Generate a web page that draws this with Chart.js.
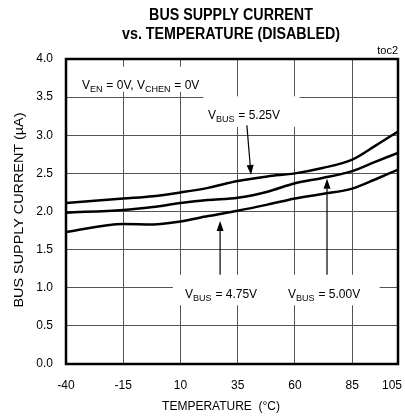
<!DOCTYPE html>
<html>
<head>
<meta charset="utf-8">
<script src="https://cdn.jsdelivr.net/npm/chart.js@4.4.1/dist/chart.umd.min.js"></script>
<style>
  html, body { margin: 0; padding: 0; background: #fff; }
  #wrap { width: 405px; height: 416px; }
</style>
</head>
<body>
<div id="wrap"><canvas id="chart"></canvas></div>
<script>
// --- DADOS ---
const temps    = [-40, -15, -2, 10, 22, 35, 48, 60, 72, 85, 95, 105];
const vbus525  = [2.11, 2.17, 2.20, 2.25, 2.31, 2.40, 2.46, 2.50, 2.57, 2.68, 2.86, 3.05];
const vbus500  = [1.985, 2.02, 2.06, 2.11, 2.15, 2.18, 2.26, 2.37, 2.44, 2.53, 2.65, 2.77];
const vbus475  = [1.73, 1.835, 1.83, 1.87, 1.94, 2.01, 2.09, 2.17, 2.23, 2.30, 2.42, 2.55];
const xTicks   = [-40, -15, 10, 35, 60, 85, 105];
const yTicks   = [0, 0.5, 1, 1.5, 2, 2.5, 3, 3.5, 4];

const FONT = "'Liberation Sans', Arial, sans-serif";

// annotations, in data units (temperature, current)
const boxes = [
  [-37.5, 20.5, 3.90, 3.57],
  [ 20.0, 62.0, 3.51, 3.11],
  [  6.7, 97.0, 1.17, 0.77]
];
const arrows = [
  [39.0, 3.13, 40.8, 2.48],
  [27.3, 1.17, 27.3, 1.875],
  [74.0, 1.17, 74.0, 2.43]
];

function pts(vals) {
  return temps.map((t, i) => ({ x: t, y: vals[i] }));
}

function line(vals) {
  return {
    data: pts(vals),
    borderColor: '#000',
    borderWidth: 2.5,
    pointRadius: 0,
    fill: false,
    tension: 0.4,
    cubicInterpolationMode: 'monotone'
  };
}

function subText(ctx, x, y, parts) {
  parts.forEach(p => {
    ctx.font = (p[1] ? '9px ' : '12px ') + FONT;
    ctx.fillText(p[0], x, y + (p[1] ? 3 : 0));
    x += ctx.measureText(p[0]).width + (p[1] ? 0.5 : 0);
  });
}

function drawArrow(ctx, x1, y1, x2, y2) {
  const a = Math.atan2(y2 - y1, x2 - x1);
  const len = 10, w = 3.5;
  const bx = x2 - len * Math.cos(a), by = y2 - len * Math.sin(a);
  ctx.beginPath();
  ctx.moveTo(x1, y1);
  ctx.lineTo(bx, by);
  ctx.lineWidth = 1.2;
  ctx.stroke();
  ctx.beginPath();
  ctx.moveTo(x2, y2);
  ctx.lineTo(bx + w * Math.sin(a), by - w * Math.cos(a));
  ctx.lineTo(bx - w * Math.sin(a), by + w * Math.cos(a));
  ctx.closePath();
  ctx.fill();
}

const ink = {
  id: 'ink',
  beforeDatasetsDraw(chart) {
    const { ctx, scales: { x, y } } = chart;
    ctx.save();
    ctx.fillStyle = '#fff';
    boxes.forEach(b => {
      const x0 = x.getPixelForValue(b[0]), x1 = x.getPixelForValue(b[1]);
      const y0 = y.getPixelForValue(b[2]), y1 = y.getPixelForValue(b[3]);
      ctx.fillRect(x0, y0, x1 - x0, y1 - y0);
    });
    ctx.restore();
  },
  afterDatasetsDraw(chart) {
    const { ctx, chartArea: a, scales: { x, y } } = chart;
    ctx.save();
    ctx.strokeStyle = '#000';
    ctx.fillStyle = '#000';
    ctx.lineWidth = 2.5;
    ctx.strokeRect(a.left, a.top, a.right - a.left, a.bottom - a.top);

    arrows.forEach(r => drawArrow(ctx,
      x.getPixelForValue(r[0]), y.getPixelForValue(r[1]),
      x.getPixelForValue(r[2]), y.getPixelForValue(r[3])));

    ctx.textAlign = 'left';
    ctx.textBaseline = 'alphabetic';
    subText(ctx, x.getPixelForValue(-33), y.getPixelForValue(3.61),
      [['V', 0], ['EN', 1], [' = 0V, V', 0], ['CHEN', 1], [' = 0V', 0]]);
    subText(ctx, x.getPixelForValue(22), y.getPixelForValue(3.21),
      [['V', 0], ['BUS', 1], [' = 5.25V', 0]]);
    subText(ctx, x.getPixelForValue(12), y.getPixelForValue(0.87),
      [['V', 0], ['BUS', 1], [' = 4.75V', 0]]);
    subText(ctx, x.getPixelForValue(57), y.getPixelForValue(0.87),
      [['V', 0], ['BUS', 1], [' = 5.00V', 0]]);
    ctx.restore();
  },
  afterDraw(chart) {
    const { ctx, chartArea: a, scales: { x } } = chart;
    ctx.save();
    ctx.fillStyle = '#000';

    // titulo
    ctx.font = 'bold 16px ' + FONT;
    ctx.textAlign = 'center';
    const sc = 218 / ctx.measureText('vs. TEMPERATURE (DISABLED)').width;
    [['BUS SUPPLY CURRENT', 19.5], ['vs. TEMPERATURE (DISABLED)', 39]].forEach(t => {
      ctx.save();
      ctx.translate(231, t[1]);
      ctx.scale(sc, 1);
      ctx.fillText(t[0], 0, 0);
      ctx.restore();
    });

    ctx.font = '11px ' + FONT;
    ctx.textAlign = 'right';
    ctx.fillText('toc2', a.right, 54);

    // eixo x
    ctx.font = '12px ' + FONT;
    ctx.textAlign = 'center';
    xTicks.forEach(v => {
      const s = String(v);
      let px = x.getPixelForValue(v);
      const w = ctx.measureText(s).width;
      if (px + w / 2 > 402) px = 402 - w / 2;
      ctx.fillText(s, px, 389);
    });
    ctx.fillText('TEMPERATURE  (°C)', 221, 410);

    // eixo y
    ctx.save();
    ctx.translate(19, 210);
    ctx.rotate(-Math.PI / 2);
    ctx.font = '13px ' + FONT;
    ctx.textBaseline = 'middle';
    const yt = 'BUS SUPPLY CURRENT (µA)';
    ctx.scale(195 / ctx.measureText(yt).width, 1);
    ctx.fillText(yt, 0, 0);
    ctx.restore();

    ctx.restore();
  }
};

new Chart(document.getElementById('chart'), {
  type: 'line',
  data: {
    datasets: [line(vbus525), line(vbus500), line(vbus475)]
  },
  options: {
    responsive: true,
    maintainAspectRatio: false,
    animation: false,
    layout: { padding: { left: 0, right: 7, top: 59, bottom: 0 } },
    plugins: {
      legend: { display: false },
      tooltip: { enabled: false }
    },
    scales: {
      x: {
        type: 'linear',
        min: -40,
        max: 105,
        afterBuildTicks: s => { s.ticks = xTicks.map(v => ({ value: v })); },
        afterFit: s => { s.height = 52; },
        ticks: { display: false },
        grid: { color: '#555', lineWidth: 1, drawTicks: false },
        border: { display: false }
      },
      y: {
        min: 0,
        max: 4,
        afterBuildTicks: s => { s.ticks = yTicks.map(v => ({ value: v })); },
        afterFit: s => { s.width = 66; },
        ticks: {
          autoSkip: false,
          padding: 13,
          color: '#000',
          font: { size: 12, family: FONT },
          callback: v => v.toFixed(1)
        },
        grid: { color: '#555', lineWidth: 1, drawTicks: false },
        border: { display: false }
      }
    }
  },
  plugins: [ink]
});
</script>
</body>
</html>
